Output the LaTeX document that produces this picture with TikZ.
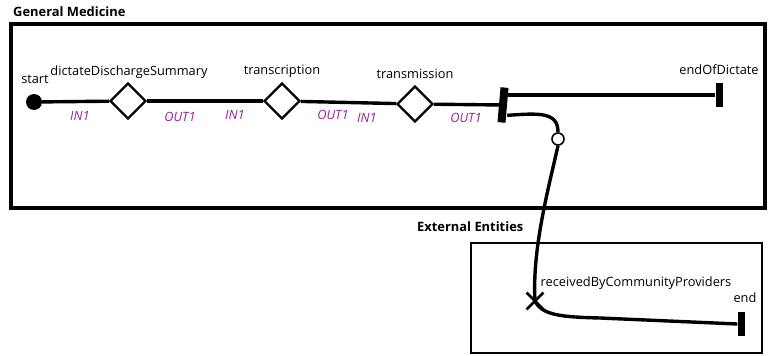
\documentclass[tikz,border=0pt]{standalone}
\usepackage{fontspec}
\setmainfont{Open Sans}
\usetikzlibrary{shapes.geometric,shapes.misc}
\definecolor{lbl}{RGB}{150,35,150}
\begin{document}
\begin{tikzpicture}[x=1pt,y=-1pt,
  conn/.style={line width=3.4pt},
  dia/.style={draw,diamond,line width=2.4pt,minimum width=36pt,minimum height=36pt,inner sep=0pt,fill=white},
  barnode/.style={fill=black,minimum width=7pt,minimum height=24pt,inner sep=0pt},
  lab/.style={font=\fontsize{12.8}{15}\selectfont,inner sep=0pt},
  port/.style={font=\fontsize{12.8}{15}\selectfont\itshape,text=lbl,inner sep=0pt},
  title/.style={font=\fontsize{12.9}{15}\selectfont\bfseries,inner sep=0pt,anchor=west},
  pool/.style={draw,line width=3.2pt,inner sep=0pt}
]
\useasboundingbox (0,0) rectangle (772,356);
% pools
\node[title] (t1) at (13,12) {General Medicine};
\node[pool,minimum width=754pt,minimum height=184pt] (gm) at (388,116) {};
\node[title] (t2) at (417,227) {External Entities};
\node[pool,line width=2.8pt,minimum width=291pt,minimum height=110pt] (ee) at (616.5,298) {};
% nodes
\node[circle,fill=black,minimum size=16pt,inner sep=0pt] (start) at (34,102) {};
\node[dia] (d1) at (128,101) {};
\node[dia] (d2) at (282,101) {};
\node[dia] (d3) at (415,104) {};
\node[barnode,minimum width=8pt,minimum height=35pt,rotate=-5] (fork) at (503,105) {};
\node[barnode] (eod) at (719,95) {};
\node[circle,draw,fill=white,line width=1.6pt,minimum size=12pt,inner sep=0pt] (c) at (558,139) {};
\node[cross out,draw,line width=2.8pt,minimum size=14pt,inner sep=0pt] (xm) at (535,301) {};
\node[barnode] (endb) at (741,324) {};
% labels
\node[lab] (lstart) at (35,79) {start};
\node[lab] (ld1) at (129,72) {dictateDischargeSummary};
\node[lab] (ld2) at (282,71) {transcription};
\node[lab] (ld3) at (415,74) {transmission};
\node[lab] (leod) at (719,70) {endOfDictate};
\node[lab] (lxm) at (636,283) {receivedByCommunityProviders};
\node[lab] (lend) at (745,298) {end};
\node[port] (p1) at (80,116) {IN1};
\node[port] (p2) at (180,117) {OUT1};
\node[port] (p3) at (235,115) {IN1};
\node[port] (p4) at (333,115) {OUT1};
\node[port] (p5) at (367,118) {IN1};
\node[port] (p6) at (466,118) {OUT1};
% connectors
\draw[conn] (start) -- (d1);
\draw[conn] (d1) -- (d2);
\draw[conn] (d2) -- (d3);
\draw[conn] (d3) -- (fork);
\draw[conn] (fork.east |- eod) -- (eod.west);
\draw[conn] ([yshift=-10pt]fork.east) .. controls (540,113) and (558,112) .. (c.north);
\draw[conn] (c.south) .. controls (548,190) and (532,250) .. (xm.center);
\draw[conn] (xm.center) .. controls (542,315) and (560,317) .. (600,318) -- (endb.west);
\end{tikzpicture}
\end{document}
